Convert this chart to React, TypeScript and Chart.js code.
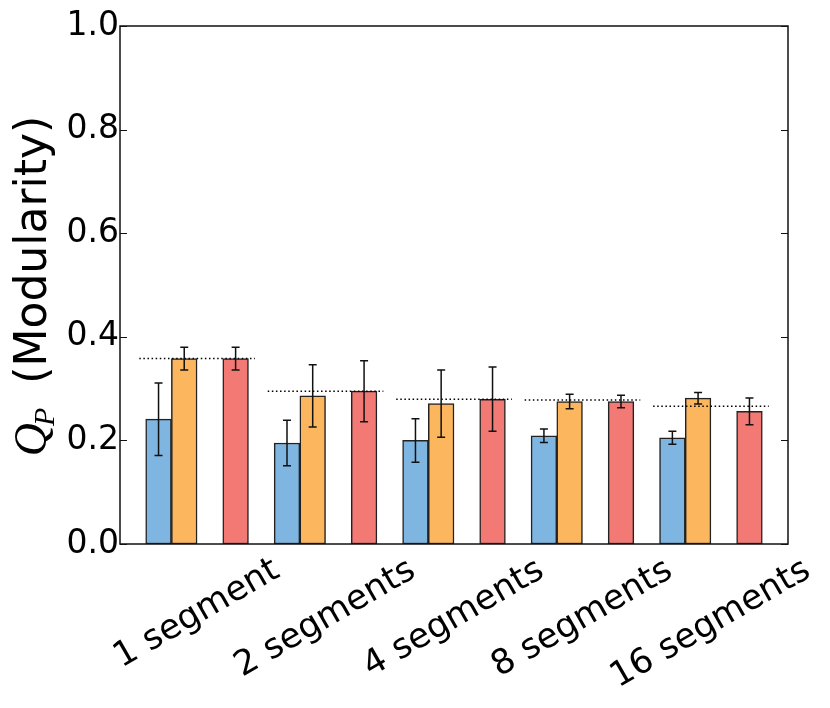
import { useEffect, useRef } from 'react'
import { Chart, registerables } from 'chart.js'
import type { Plugin } from 'chart.js'

Chart.register(...registerables)

const categories = ['1 segment', '2 segments', '4 segments', '8 segments', '16 segments']

const blueValues = [0.241, 0.195, 0.2, 0.209, 0.205]
const blueErrors = [0.07, 0.044, 0.042, 0.013, 0.0125]

const orangeValues = [0.358, 0.286, 0.271, 0.275, 0.2815]
const orangeErrors = [0.022, 0.06, 0.065, 0.014, 0.011]

const redValues = [0.358, 0.295, 0.2795, 0.275, 0.256]
const redErrors = [0.022, 0.059, 0.062, 0.012, 0.026]

// dotted reference level drawn over each group
const referenceLevels = [0.358, 0.295, 0.2795, 0.278, 0.266]

const yTicks = [0, 0.2, 0.4, 0.6, 0.8, 1.0]

// group layout in x units (one group = 1 unit, bar width 0.2)
const barOffsets = [0.1, 0.3, 0.7]
const labelOffset = 0.4
const refStart = -0.05
const refEnd = 0.85

const errorSets = [blueErrors, orangeErrors, redErrors]

const FONT = '"DejaVu Sans"'
const LABEL_SIZE = 34.5
const ANGLE = Math.PI / 6

const overlay: Plugin<'bar'> = {
  id: 'overlay',
  afterDatasetsDraw(chart) {
    const { ctx, chartArea, scales } = chart
    const x = scales.x
    const y = scales.y
    ctx.save()

    // dotted reference lines
    ctx.strokeStyle = '#000'
    ctx.lineWidth = 1.5
    ctx.setLineDash([1.5, 2.6])
    referenceLevels.forEach((level, i) => {
      const py = y.getPixelForValue(level)
      ctx.beginPath()
      ctx.moveTo(x.getPixelForValue(i + refStart), py)
      ctx.lineTo(x.getPixelForValue(i + refEnd), py)
      ctx.stroke()
    })
    ctx.setLineDash([])

    // error bars
    ctx.strokeStyle = '#111'
    ctx.lineWidth = 1.5
    chart.data.datasets.forEach((ds, d) => {
      const errs = errorSets[d]
      ;(ds.data as { x: number; y: number }[]).forEach((pt, i) => {
        const px = x.getPixelForValue(pt.x)
        const top = y.getPixelForValue(pt.y + errs[i])
        const bot = y.getPixelForValue(pt.y - errs[i])
        ctx.beginPath()
        ctx.moveTo(px, top)
        ctx.lineTo(px, bot)
        ctx.moveTo(px - 4, top)
        ctx.lineTo(px + 4, top)
        ctx.moveTo(px - 4, bot)
        ctx.lineTo(px + 4, bot)
        ctx.stroke()
      })
    })

    // frame + inward ticks
    ctx.strokeStyle = '#111'
    ctx.lineWidth = 1.5
    ctx.strokeRect(chartArea.left, chartArea.top, chartArea.width, chartArea.height)
    ctx.lineWidth = 1
    yTicks.forEach(v => {
      const py = Math.round(y.getPixelForValue(v)) + 0.5
      ctx.beginPath()
      ctx.moveTo(chartArea.left, py)
      ctx.lineTo(chartArea.left + 7, py)
      ctx.moveTo(chartArea.right, py)
      ctx.lineTo(chartArea.right - 7, py)
      ctx.stroke()
    })
    ctx.restore()
  },
  afterDraw(chart) {
    const { ctx, chartArea, scales } = chart
    const x = scales.x
    ctx.save()
    ctx.fillStyle = '#000'

    // rotated category labels, centred under each group
    ctx.font = `${LABEL_SIZE}px ${FONT}`
    ctx.textAlign = 'center'
    ctx.textBaseline = 'alphabetic'
    categories.forEach((label, i) => {
      const w = ctx.measureText(label).width
      const h = LABEL_SIZE * 0.96
      const boxH = w * Math.sin(ANGLE) + h * Math.cos(ANGLE)
      const cx = x.getPixelForValue(i + labelOffset)
      const cy = chartArea.bottom + 10 + boxH / 2
      ctx.save()
      ctx.translate(cx, cy)
      ctx.rotate(-ANGLE)
      ctx.fillText(label, 0, LABEL_SIZE * 0.25)
      ctx.restore()
    })

    // y-axis title: Q_P (Modularity)
    const qFont = 'italic 46px "Liberation Serif"'
    const pFont = 'italic 30px "Liberation Serif"'
    const restFont = `44px ${FONT}`
    const rest = '(Modularity)'
    ctx.textAlign = 'left'
    ctx.font = qFont
    const wQ = ctx.measureText('Q').width
    ctx.font = pFont
    const wP = ctx.measureText('P').width
    ctx.font = restFont
    const wR = ctx.measureText(rest).width
    const gap = 24
    const total = wQ - 3 + wP + gap + wR
    const cy = (chartArea.top + chartArea.bottom) / 2 + 1
    ctx.translate(46, cy)
    ctx.rotate(-Math.PI / 2)
    let s = -total / 2
    ctx.font = qFont
    ctx.fillText('Q', s, 0)
    s += wQ - 3
    ctx.font = pFont
    ctx.fillText('P', s, 8)
    s += wP + gap
    ctx.font = restFont
    ctx.fillText(rest, s, 0)
    ctx.restore()
  }
}

export default function App() {
  const canvasRef = useRef<HTMLCanvasElement>(null)

  useEffect(() => {
    if (!canvasRef.current) return
    const makeSet = (values: number[], offset: number, color: string) => ({
      data: values.map((v, i) => ({ x: i + offset, y: v })),
      backgroundColor: color,
      borderColor: '#222',
      borderWidth: 1.5,
      borderSkipped: false as const,
      grouped: false,
      barPercentage: 1,
      categoryPercentage: 1
    })
    const chart = new Chart(canvasRef.current, {
      type: 'bar',
      data: {
        datasets: [
          makeSet(blueValues, barOffsets[0], '#7eb5e1'),
          makeSet(orangeValues, barOffsets[1], '#fbb65e'),
          makeSet(redValues, barOffsets[2], '#f37975')
        ]
      },
      options: {
        animation: false,
        responsive: true,
        maintainAspectRatio: false,
        layout: { padding: { top: 26, right: 42, left: 0, bottom: 0 } },
        plugins: { legend: { display: false }, tooltip: { enabled: false } },
        scales: {
          x: {
            type: 'linear',
            offset: false,
            min: -0.2,
            max: 5.0,
            grid: { display: false, drawTicks: false, offset: false },
            border: { display: false },
            ticks: { display: false },
            afterBuildTicks: scale => {
              scale.ticks = categories.map((_, i) => ({ value: i + labelOffset }))
            },
            afterFit: scale => {
              scale.height = 164
            }
          },
          y: {
            min: 0,
            max: 1,
            grid: { display: false, drawTicks: false },
            border: { display: false },
            ticks: {
              stepSize: 0.2,
              padding: 1,
              color: '#000',
              font: { family: 'DejaVu Sans', size: 33 },
              callback: v => Number(v).toFixed(1)
            },
            afterFit: scale => {
              scale.width = 120
            }
          }
        }
      },
      plugins: [overlay]
    })
    return () => {
      chart.destroy()
    }
  }, [])

  return (
    <div style={{ position: 'fixed', left: 0, top: 0, width: 830, height: 708, background: '#fff' }}>
      <canvas ref={canvasRef} />
    </div>
  )
}
